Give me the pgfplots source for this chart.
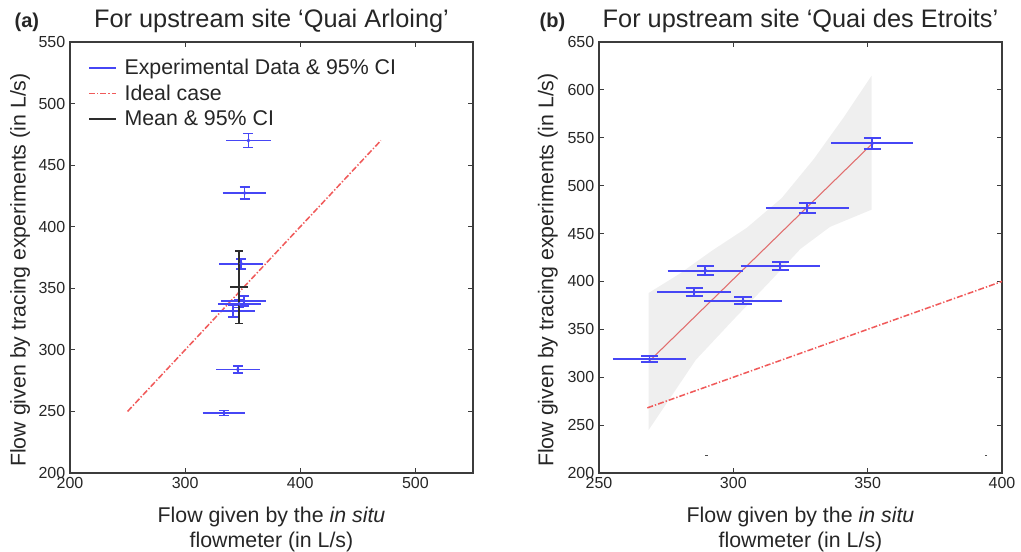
\documentclass[border=0pt]{standalone}
\usepackage{fontspec}
\setmainfont{Liberation Sans}
\usepackage{pgfplots}
\pgfplotsset{compat=1.18}
\usepackage{pgfplotstable}

\definecolor{ebblue}{RGB}{70,70,245}
\definecolor{idealred}{RGB}{240,90,90}
\definecolor{regred}{RGB}{225,110,110}
\definecolor{meangray}{RGB}{45,45,45}
\definecolor{bandgray}{RGB}{239,239,239}
\definecolor{axgray}{RGB}{60,60,60}

% centres of the experimental points
\pgfplotstableread{
x y
355.0 470.0
351.6 427.4
348.7 370.0
351.0 339.5
347.0 337.4
341.5 331.4
345.8 284.0
333.6 248.7
}\dataA

\pgfplotstableread{
x y
351.75 544.3
327.5 477.0
317.5 416.2
289.6 411.3
285.4 388.7
303.6 380.0
268.8 318.8
}\dataB

\pgfplotsset{
  myaxis/.style={
    scale only axis, width=302.25pt, height=323.25pt,
    axis line style={axgray, line width=0.9pt},
    tick style={axgray, line width=0.8pt},
    tick align=inside, xtick pos=both, ytick pos=both,
    major tick length=3.5pt,
    ticklabel style={font=\fontsize{12}{14}\selectfont, text=black!85},
    /pgf/number format/assume math mode=true,
    label style={font=\fontsize{16}{18.75}\selectfont, text=black!85},
    title style={font=\fontsize{19}{22}\selectfont, text=black!85, at={(axis description cs:0.5,1)}, anchor=base, yshift=4.5pt},
    xlabel style={align=center, at={(axis description cs:0.5,0)}, anchor=north, yshift=-25pt, inner sep=0pt},
    ylabel style={anchor=center, inner sep=0pt},
    legend image code/.code={\draw[#1] (0pt,0pt) -- (20pt,0pt); \path (24pt,0pt);},
    unbounded coords=jump,
    bar/.style={ebblue, line width=1.4pt},
    ideal/.style={idealred, line width=1.15pt, dash pattern=on 4.5pt off 1.5pt on 1pt off 1.5pt},
  },
}

\begin{document}
\begin{tikzpicture}
\begin{axis}[myaxis, name=A, at={(0pt,0pt)},
  xmin=200, xmax=550, ymin=200, ymax=550,
  xtick={200,300,400,500}, ytick={200,250,...,550},
  title={For upstream site ‘Quai Arloing’},
  xlabel={Flow given by the \textit{in situ}\\flowmeter (in L/s)},
  ylabel={Flow given by tracing experiments (in L/s)},
  ylabel style={at={(axis description cs:-0.124,0.471)}},
  legend style={at={(axis description cs:0.035,0.973)}, anchor=north west, draw=none, fill=none, font=\fontsize{16}{18}\selectfont, text=black!85, row sep=2.2pt},
  legend cell align=left,
]
\addlegendimage{ebblue, line width=1.1pt}
\addlegendimage{ideal}
\addlegendimage{meangray, line width=1pt}
\legend{Experimental Data \& 95\% CI, Ideal case, Mean \& 95\% CI}
\addplot[ideal, forget plot] coordinates {(250,250) (470,470)};
% horizontal 95% CI of the in situ flow
\addplot[bar, forget plot] coordinates {
(335.5,470) (374.5,470) (nan,nan)
(332.6,427.4) (370.6,427.4) (nan,nan)
(329.7,370) (367.7,370) (nan,nan)
(331.4,339.5) (370.6,339.5) (nan,nan)
(328.5,337.4) (365.5,337.4) (nan,nan)
(322.7,331.4) (360.3,331.4) (nan,nan)
(326.8,284) (364.8,284) (nan,nan)
(315.1,248.7) (352.1,248.7)};
% vertical 95% CI of the tracing flow
\addplot[bar, forget plot] coordinates {
(355,464.3) (355,475.7) (nan,nan)
(351.6,422.4) (351.6,432.4) (nan,nan)
(348.7,366) (348.7,374) (nan,nan)
(351,335.5) (351,343.5) (nan,nan)
(347,334.4) (347,340.4) (nan,nan)
(341.5,326.4) (341.5,336.4) (nan,nan)
(345.8,281) (345.8,287) (nan,nan)
(333.6,246.7) (333.6,250.7)};
% caps
\addplot[bar, forget plot] coordinates {
(350.66,464.3) (359.34,464.3) (nan,nan) (350.66,475.7) (359.34,475.7) (nan,nan)
(347.26,422.4) (355.94,422.4) (nan,nan) (347.26,432.4) (355.94,432.4) (nan,nan)
(344.36,366) (353.04,366) (nan,nan) (344.36,374) (353.04,374) (nan,nan)
(346.66,335.5) (355.34,335.5) (nan,nan) (346.66,343.5) (355.34,343.5) (nan,nan)
(342.66,334.4) (351.34,334.4) (nan,nan) (342.66,340.4) (351.34,340.4) (nan,nan)
(337.16,326.4) (345.84,326.4) (nan,nan) (337.16,336.4) (345.84,336.4) (nan,nan)
(341.46,281) (350.14,281) (nan,nan) (341.46,287) (350.14,287) (nan,nan)
(329.26,246.7) (337.94,246.7) (nan,nan) (329.26,250.7) (337.94,250.7)};
% mean & 95% CI
\addplot[meangray, line width=1.2pt, forget plot] coordinates {
(339,351) (355,351) (nan,nan)
(347,321.5) (347,380.5) (nan,nan)
(343.5,321.5) (350.5,321.5) (nan,nan)
(343.5,380.5) (350.5,380.5)};
\addplot[meangray, only marks, mark=*, mark size=1.1pt, forget plot] coordinates {(347,351)};
\addplot[ebblue, only marks, mark=*, mark size=1.2pt, forget plot] table[x=x, y=y] {\dataA};
\end{axis}
\node[font=\bfseries\fontsize{15}{17}\selectfont, anchor=base west, text=black!85] at ([xshift=-45pt, yshift=10.5pt]A.north west) {(a)};

\begin{axis}[myaxis, name=B, at={(396.75pt,0pt)},
  xmin=250, xmax=400, ymin=200, ymax=650,
  xtick={250,300,350,400}, ytick={200,250,...,650},
  title={For upstream site ‘Quai des Etroits’},
  xlabel={Flow given by the \textit{in situ}\\flowmeter (in L/s)},
  ylabel={Flow given by tracing experiments (in L/s)},
  ylabel style={at={(axis description cs:-0.127,0.471)}},
]
\addplot[fill=bandgray, draw=none] coordinates {
(268.5,245) (268.5,388) (280,408) (292,432) (305,456) (318,487) (330,528) (341,571) (351.5,615)
(351.5,475) (336,457) (325,434) (314,401) (300,360) (286,318) (268.5,245)} -- cycle;
\addplot[regred, line width=0.8pt] coordinates {(268.8,317) (351.75,544)};
\addplot[ideal] coordinates {(268,268) (400,400)};
\addplot[bar] coordinates {
(336.45,544.3) (367.05,544.3) (nan,nan)
(312.1,477) (342.9,477) (nan,nan)
(302.7,416.2) (332.3,416.2) (nan,nan)
(275.5,411.3) (303.7,411.3) (nan,nan)
(271.6,388.7) (299.2,388.7) (nan,nan)
(289.0,380) (318.2,380) (nan,nan)
(255.2,318.8) (282.4,318.8)};
\addplot[bar] coordinates {
(351.75,538.6) (351.75,550) (nan,nan)
(327.5,471.8) (327.5,482.2) (nan,nan)
(317.5,412.2) (317.5,420.2) (nan,nan)
(289.6,406.4) (289.6,416.2) (nan,nan)
(285.4,384.7) (285.4,392.7) (nan,nan)
(303.6,376) (303.6,384) (nan,nan)
(268.8,315.8) (268.8,321.8)};
\addplot[bar] coordinates {
(348.55,538.6) (354.95,538.6) (nan,nan) (348.55,550) (354.95,550) (nan,nan)
(324.3,471.8) (330.7,471.8) (nan,nan) (324.3,482.2) (330.7,482.2) (nan,nan)
(314.3,412.2) (320.7,412.2) (nan,nan) (314.3,420.2) (320.7,420.2) (nan,nan)
(286.4,406.4) (292.8,406.4) (nan,nan) (286.4,416.2) (292.8,416.2) (nan,nan)
(282.2,384.7) (288.6,384.7) (nan,nan) (282.2,392.7) (288.6,392.7) (nan,nan)
(300.4,376) (306.8,376) (nan,nan) (300.4,384) (306.8,384) (nan,nan)
(265.6,315.8) (272.0,315.8) (nan,nan) (265.6,321.8) (272.0,321.8)};
\addplot[ebblue, only marks, mark=*, mark size=1.2pt] table[x=x, y=y] {\dataB};
\addplot[black!70, only marks, mark=-, mark size=1pt] coordinates {(290,219) (394,219)};
\end{axis}
\node[font=\bfseries\fontsize{15}{17}\selectfont, anchor=base west, text=black!85] at ([xshift=-48pt, yshift=10.5pt]B.north west) {(b)};

\pgfresetboundingbox
\path (-52.5pt,-59.25pt) rectangle (713.25pt,354.75pt);
\end{tikzpicture}
\end{document}
